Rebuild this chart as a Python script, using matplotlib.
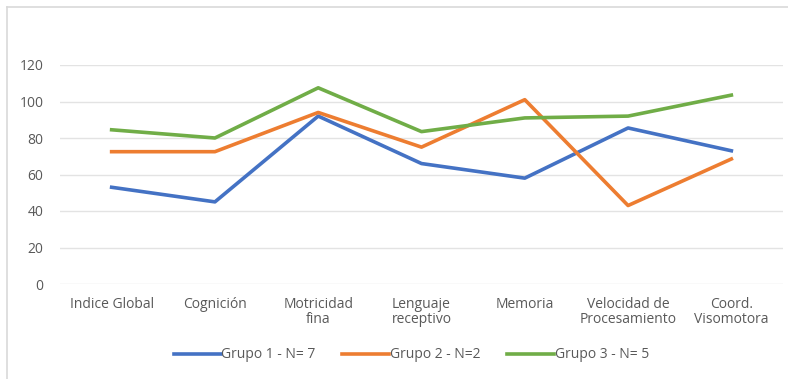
import matplotlib
matplotlib.use("Agg")
import matplotlib.pyplot as plt
from matplotlib.lines import Line2D

categories = ["Indice Global", "Cognición", "Motricidad\nfina", "Lenguaje\nreceptivo",
              "Memoria", "Velocidad de\nProcesamiento", "Coord.\nVisomotora"]
grupo1 = [53, 45, 92, 66, 58, 85.5, 73]
grupo2 = [72.5, 72.5, 94, 75, 101, 43, 68.5]
grupo3 = [84.5, 80, 107.5, 83.5, 91, 92, 103.5]
yticks = [0, 20, 40, 60, 80, 100, 120]

plt.rcParams["font.family"] = ["Open Sans", "DejaVu Sans"]

fig = plt.figure(figsize=(7.88, 3.79), dpi=100)
ax = fig.add_axes([60 / 788, 1 - 284 / 379, 723 / 788, 219 / 379])

x = list(range(len(categories)))
ax.plot(x, grupo1, color="#4472C4", lw=2.6, label="Grupo 1 - N= 7")
ax.plot(x, grupo2, color="#ED7D31", lw=2.6, label="Grupo 2 - N=2")
ax.plot(x, grupo3, color="#70AD47", lw=2.6, label="Grupo 3 - N= 5")

ax.set_xlim(-0.5, len(categories) - 0.5)
ax.set_ylim(0, 120)
ax.set_yticks(yticks)
ax.set_xticks(x)
ax.set_xticklabels(categories, fontsize=10, color="#595959", linespacing=1.05)
ax.tick_params(axis="y", labelsize=10, labelcolor="#595959", length=0, pad=12)
ax.tick_params(axis="x", length=0, pad=9)
ax.grid(axis="y", color="#E3E3E3", lw=1)
ax.set_axisbelow(True)
for s in ax.spines.values():
    s.set_visible(False)

handles, labels = ax.get_legend_handles_labels()
fig.legend(handles, labels, loc="center", bbox_to_anchor=(0.522, 1 - 355 / 379), ncol=3,
           frameon=False, fontsize=10, labelcolor="#595959", handlelength=3.4,
           handletextpad=0.05, columnspacing=1.9)

# thin outer frame like the Excel chart area
fig.add_artist(Line2D([7 / 788, 7 / 788], [0, 1 - 7 / 379], transform=fig.transFigure,
                      color="#D9D9D9", lw=1.2))
fig.add_artist(Line2D([7 / 788, 1], [1 - 7 / 379, 1 - 7 / 379], transform=fig.transFigure,
                      color="#D9D9D9", lw=1.2))

fig.savefig("out.png", dpi=100)
